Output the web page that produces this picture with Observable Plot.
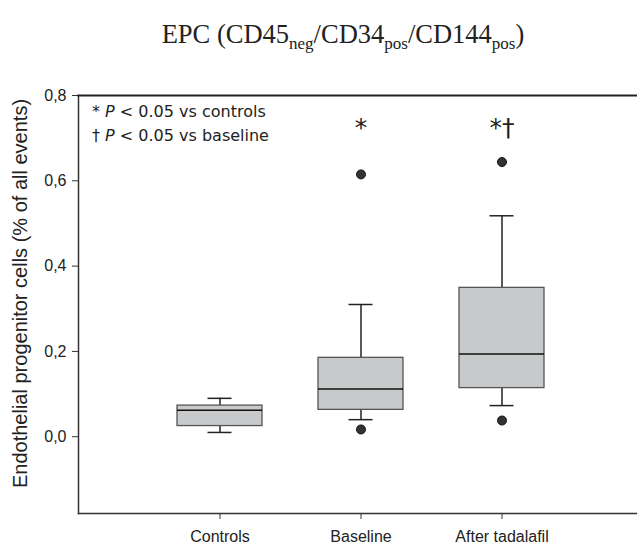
<!DOCTYPE html>
<html><head><meta charset="utf-8">
<script src="https://cdn.jsdelivr.net/npm/d3@7"></script>
<script src="https://cdn.jsdelivr.net/npm/@observablehq/plot@0.6"></script>
<style>
body{margin:0;background:#fff;}
#wrap{position:relative;width:637px;height:546px;}
#title{position:absolute;left:0;top:19px;width:686px;text-align:center;font-family:"Liberation Serif","Times New Roman",serif;font-size:26.5px;color:#222;white-space:nowrap;}
#title sub{font-size:17px;vertical-align:baseline;position:relative;top:6px;}
#legend{position:absolute;left:92px;top:100px;font-family:"DejaVu Sans",Verdana,sans-serif;font-size:16px;line-height:24px;color:#222;}
#chart{position:absolute;left:0;top:70px;}
</style></head><body>
<div id="wrap">
<div id="title">EPC (CD45<sub>neg</sub>/CD34<sub>pos</sub>/CD144<sub>pos</sub>)</div>
<div id="chart"></div>
<div id="legend"><div>* <i>P</i> &lt; 0.05 vs controls</div><div>† <i>P</i> &lt; 0.05 vs baseline</div></div>
</div>
<script>
const categories = ["Controls", "Baseline", "After tadalafil"];
const whiskerLow = [0.010, 0.040, 0.073];
const q1 = [0.025, 0.063, 0.114];
const median = [0.062, 0.112, 0.194];
const q3 = [0.073, 0.185, 0.349];
const whiskerHigh = [0.090, 0.310, 0.518];
const outlierGroup = ["Baseline", "Baseline", "After tadalafil", "After tadalafil"];
const outlierValue = [0.017, 0.615, 0.038, 0.644];
const starGroup = ["Baseline", "After tadalafil"];
const starLabel = ["*", "*†"];
const yTicks = [0, 0.2, 0.4, 0.6, 0.8];
const yLabel = "Endothelial progenitor cells (% of all events)";

const boxes = categories.map((c, i) => ({c, lo: whiskerLow[i], q1: q1[i], med: median[i], q3: q3[i], hi: whiskerHigh[i]}));
const outliers = outlierGroup.map((c, i) => ({c, v: outlierValue[i]}));
const stars = starGroup.map((c, i) => ({c, s: starLabel[i]}));

const ink = "#333";
const chart = Plot.plot({
  width: 637,
  height: 476,
  marginLeft: 78,
  marginRight: 0,
  marginTop: 25,
  marginBottom: 33,
  style: {fontFamily: "'Liberation Sans', Arial, sans-serif", fontSize: "16px", color: "#222", background: "#fff", overflow: "visible"},
  x: {type: "band", domain: categories, paddingInner: 0.4, paddingOuter: 0.68, align: 0.515},
  y: {domain: [-0.18, 0.8]},
  marks: [
    Plot.frame({anchor: "left", stroke: ink, strokeWidth: 1.5}),
    Plot.frame({anchor: "top", stroke: "#222", strokeWidth: 2}),
    Plot.frame({anchor: "bottom", stroke: ink, strokeWidth: 1.5}),
    Plot.axisY({ticks: yTicks, tickSize: 6, tickPadding: 6, tickFormat: d => d.toFixed(1).replace(".", ","), fontSize: 16, stroke: ink, label: null}),
    Plot.text([yLabel], {frameAnchor: "left", rotate: -90, dx: -58, dy: -11, textAnchor: "middle", lineAnchor: "middle", fontSize: 20, fill: "#222"}),
    Plot.axisX({tickSize: 6, tickPadding: 11, label: null, fontSize: 16, stroke: ink}),
    Plot.ruleX(boxes, {x: "c", y1: "lo", y2: "hi", stroke: "#222", strokeWidth: 1.5}),
    Plot.tickY(boxes, {x: "c", y: "lo", stroke: "#222", strokeWidth: 1.5, insetLeft: 30.5, insetRight: 30.5}),
    Plot.tickY(boxes, {x: "c", y: "hi", stroke: "#222", strokeWidth: 1.5, insetLeft: 30.5, insetRight: 30.5}),
    Plot.barY(boxes, {x: "c", y1: "q1", y2: "q3", fill: "#c8c9cb", stroke: "#555", strokeWidth: 1.3}),
    Plot.tickY(boxes, {x: "c", y: "med", stroke: "#111", strokeWidth: 1.6}),
    Plot.dot(outliers, {x: "c", y: "v", r: 4.5, fill: "#333", stroke: "#111", strokeWidth: 1}),
    Plot.text(stars, {x: "c", y: 0.735, text: "s", fontSize: 25, fontFamily: "'DejaVu Sans', Verdana, sans-serif", fill: "#222", dy: 5})
  ]
});
document.getElementById("chart").appendChild(chart);
</script>
</body></html>
